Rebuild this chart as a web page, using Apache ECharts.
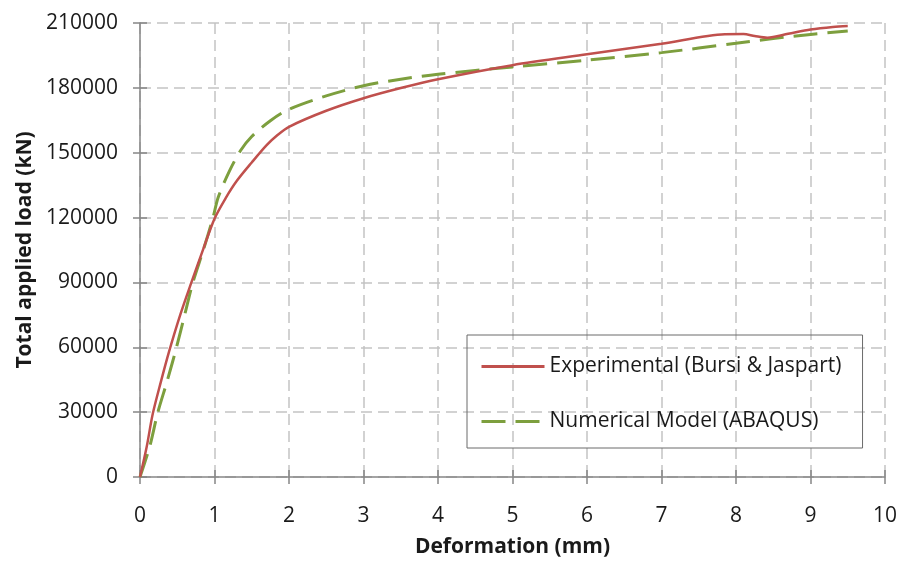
<!DOCTYPE html>
<html>
<head>
<meta charset="utf-8">
<script src="https://cdn.jsdelivr.net/npm/echarts@6/dist/echarts.min.js"></script>
<style>
  html, body { margin: 0; padding: 0; background: #fff; }
  #main { width: 904px; height: 561px; }
</style>
</head>
<body>
<div id="main"></div>
<script>
// Experimental (Bursi & Jaspart)
const expDeformation = [0, 0.09, 0.17, 0.28, 0.39, 0.54, 0.69, 0.85, 1.0, 1.15, 1.3, 1.5, 1.7, 1.85, 2.0, 2.5, 3.0, 3.5, 4.0, 5.0, 6.0, 7.0, 7.85, 8.1, 8.25, 8.42, 8.7, 9.0, 9.3, 9.5];
const expLoad = [0, 14000, 29000, 44000, 58000, 75000, 90000, 105500, 119500, 129000, 137000, 145500, 153500, 158300, 162000, 169400, 175200, 179900, 184000, 190500, 195500, 200400, 204800, 204900, 204000, 203200, 205000, 207000, 208200, 208600];

// Numerical Model (ABAQUS)
const numDeformation = [0, 0.13, 0.24, 0.37, 0.49, 0.6, 0.71, 0.85, 0.98, 1.05, 1.2, 1.35, 1.5, 1.75, 2.0, 2.5, 3.0, 3.5, 4.0, 5.0, 6.0, 7.0, 8.0, 8.5, 9.0, 9.5];
const numLoad = [0, 14000, 30000, 45000, 60000, 75000, 90000, 105000, 120000, 129400, 141500, 151000, 157500, 164800, 170100, 176300, 181000, 184000, 186300, 189700, 192800, 196300, 200600, 202800, 204700, 206300];

const xTicks = { min: 0, max: 10, interval: 1 };
const yTicks = { min: 0, max: 210000, interval: 30000 };

const font = '"Open Sans", Lato, sans-serif';
const textColor = '#1a1a1a';
const axisGray = '#868686';

function zip(xs, ys) {
  return xs.map((x, i) => [x, ys[i]]);
}

const chart = echarts.init(document.getElementById('main'));

chart.setOption({
  animation: false,
  grid: { left: 140, right: 19, top: 23, bottom: 84, outerBoundsMode: 'none' },
  legend: {
    orient: 'vertical',
    left: 467,
    top: 335,
    padding: [21, 21, 16, 13],
    itemWidth: 63,
    itemHeight: 14,
    itemGap: 34,
    borderColor: '#6b6b6b',
    borderWidth: 1,
    itemStyle: { opacity: 0 },
    lineStyle: { width: 3 },
    textStyle: { fontFamily: font, fontSize: 21, color: textColor },
    data: ['Experimental (Bursi & Jaspart)', 'Numerical Model (ABAQUS)']
  },
  xAxis: [
    {
      type: 'value',
      min: xTicks.min, max: xTicks.max, interval: xTicks.interval,
      name: 'Deformation (mm)',
      nameLocation: 'middle',
      nameGap: 60,
      nameTextStyle: { fontFamily: font, fontSize: 21, fontWeight: 'bold', color: textColor },
      axisLine: { lineStyle: { color: axisGray, width: 1.5 } },
      axisTick: { length: 7, lineStyle: { color: axisGray, width: 1.5 } },
      axisLabel: { margin: 29, fontFamily: font, fontSize: 21, color: textColor },
      splitLine: { lineStyle: { color: '#c4c4c4', width: 1.5, type: [11, 6] } }
    },
    {
      type: 'value', position: 'bottom',
      min: xTicks.min, max: xTicks.max, interval: xTicks.interval,
      axisLine: { show: false },
      axisTick: { inside: true, length: 7, lineStyle: { color: axisGray, width: 1.5 } },
      axisLabel: { show: false },
      splitLine: { show: false }
    }
  ],
  yAxis: [
    {
      type: 'value',
      min: yTicks.min, max: yTicks.max, interval: yTicks.interval,
      name: 'Total applied load (kN)',
      nameLocation: 'middle',
      nameGap: 103,
      nameTextStyle: { fontFamily: font, fontSize: 21, fontWeight: 'bold', color: textColor },
      axisLine: { show: true, lineStyle: { color: axisGray, width: 1.5 } },
      axisTick: { show: true, length: 7, lineStyle: { color: axisGray, width: 1.5 } },
      axisLabel: {
        margin: 22, fontFamily: font, fontSize: 21, color: textColor,
        formatter: v => String(v)
      },
      splitLine: { lineStyle: { color: '#c4c4c4', width: 1.5, type: [11, 6] } }
    },
    {
      type: 'value', position: 'left',
      min: yTicks.min, max: yTicks.max, interval: yTicks.interval,
      axisLine: { show: false },
      axisTick: { show: true, inside: true, length: 7, lineStyle: { color: axisGray, width: 1.5 } },
      axisLabel: { show: false },
      splitLine: { show: false }
    }
  ],
  series: [
    {
      name: 'Experimental (Bursi & Jaspart)',
      type: 'line',
      data: zip(expDeformation, expLoad),
      smooth: 0.3,
      symbol: 'none',
      color: '#C0504D',
      lineStyle: { color: '#C0504D', width: 2.5 },
      z: 3
    },
    {
      name: 'Numerical Model (ABAQUS)',
      type: 'line',
      data: zip(numDeformation, numLoad),
      smooth: 0.3,
      symbol: 'none',
      color: '#7D9F3E',
      lineStyle: { color: '#7D9F3E', width: 3, type: [24, 10] },
      z: 2
    }
  ]
});
</script>
</body>
</html>
